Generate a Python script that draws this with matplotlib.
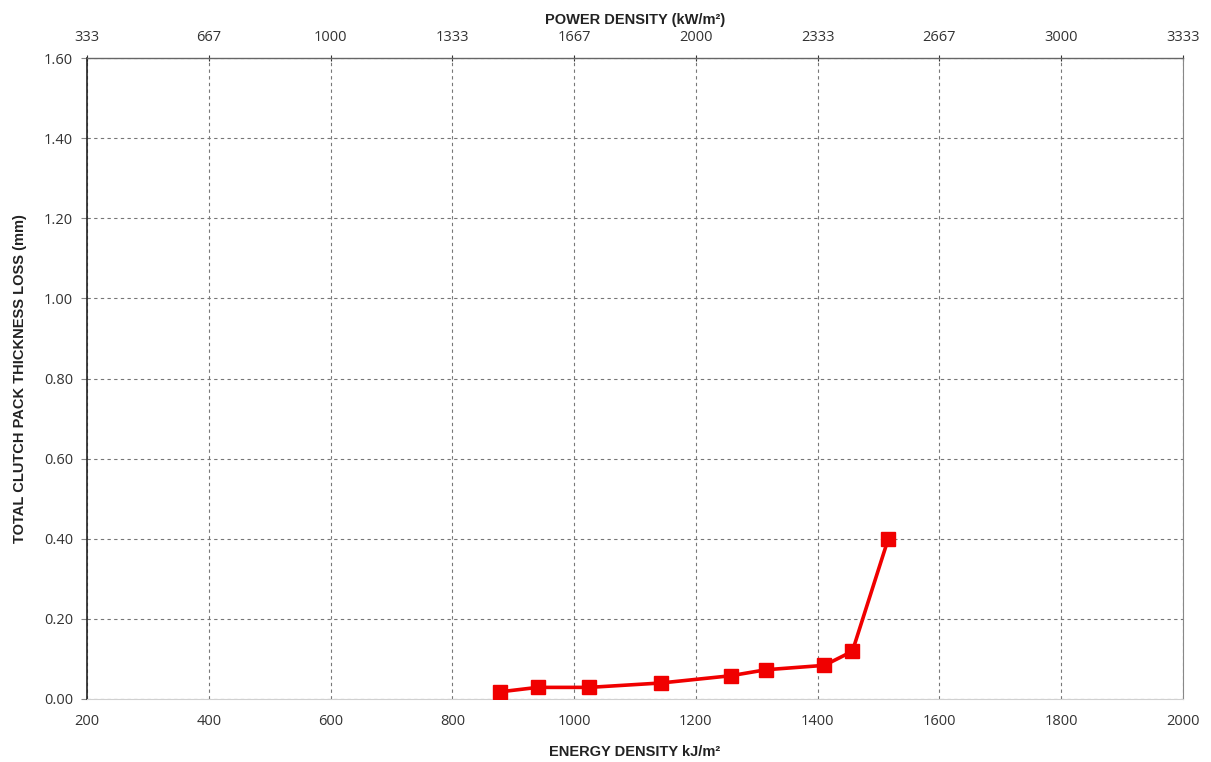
import matplotlib
matplotlib.use("Agg")
import matplotlib.pyplot as plt

# Data
energy_density = [879, 940, 1025, 1143, 1257, 1315, 1411, 1457, 1516]
thickness_loss = [0.018, 0.029, 0.029, 0.040, 0.058, 0.073, 0.084, 0.119, 0.40]

bottom_ticks = [200, 400, 600, 800, 1000, 1200, 1400, 1600, 1800, 2000]
top_tick_labels = ["333", "667", "1000", "1333", "1667", "2000", "2333", "2667", "3000", "3333"]
y_ticks = [0.0, 0.2, 0.4, 0.6, 0.8, 1.0, 1.2, 1.4, 1.6]

fig = plt.figure(figsize=(12.11, 7.62), dpi=100)
ax = fig.add_axes([87/1211, 63/762, (1183-87)/1211, (699-58)/762])

ax.plot(energy_density, thickness_loss, color="#f00000", lw=2.6, marker="s",
        markersize=9.5, markerfacecolor="#f00000", markeredgecolor="#f00000", zorder=5)

ax.set_xlim(200, 2000)
ax.set_ylim(0, 1.6)
ax.set_xticks(bottom_ticks)
ax.set_xticklabels([str(t) for t in bottom_ticks], fontfamily="Open Sans", fontsize=10.5)
ax.set_yticks(y_ticks)
ax.set_yticklabels([f"{v:.2f}" for v in y_ticks], fontfamily="Open Sans", fontsize=10.5)

ax.grid(True, linestyle=(0, (3, 3)), color="#777777", lw=0.8)
ax.set_axisbelow(True)

ax.spines["left"].set_color("#222222")
ax.spines["left"].set_linewidth(1.2)
ax.spines["top"].set_color("#666666")
ax.spines["top"].set_linewidth(1.0)
ax.spines["bottom"].set_color("#d0d0d0")
ax.spines["right"].set_color("#888888")
ax.spines["right"].set_linewidth(0.8)

ax.tick_params(axis="x", length=0, pad=11, colors="#333333")
ax.tick_params(axis="y", length=4, pad=6, colors="#333333", direction="out")
ax.tick_params(axis="y", which="both", color="#888888")

ax.set_xlabel("ENERGY DENSITY kJ/m²", fontfamily="Liberation Sans", fontweight="bold",
              fontsize=10.5, labelpad=11, color="#222222")
ax.set_ylabel("TOTAL CLUTCH PACK THICKNESS LOSS (mm)", fontfamily="Liberation Sans",
              fontweight="bold", fontsize=10.5, labelpad=12, color="#222222")

sec = ax.secondary_xaxis("top", functions=(lambda x: x * 5.0 / 3.0, lambda x: x * 3.0 / 5.0))
sec.set_xticks([t * 5.0 / 3.0 for t in bottom_ticks])
sec.set_xticklabels(top_tick_labels, fontfamily="Open Sans", fontsize=10.5)
sec.tick_params(length=4, pad=7, colors="#333333", direction="inout")
sec.spines["top"].set_visible(False)
sec.set_xlabel("POWER DENSITY (kW/m²)", fontfamily="Liberation Sans", fontweight="bold",
               fontsize=10.5, labelpad=5, color="#222222")

fig.savefig("out.png", dpi=100, facecolor="white")
